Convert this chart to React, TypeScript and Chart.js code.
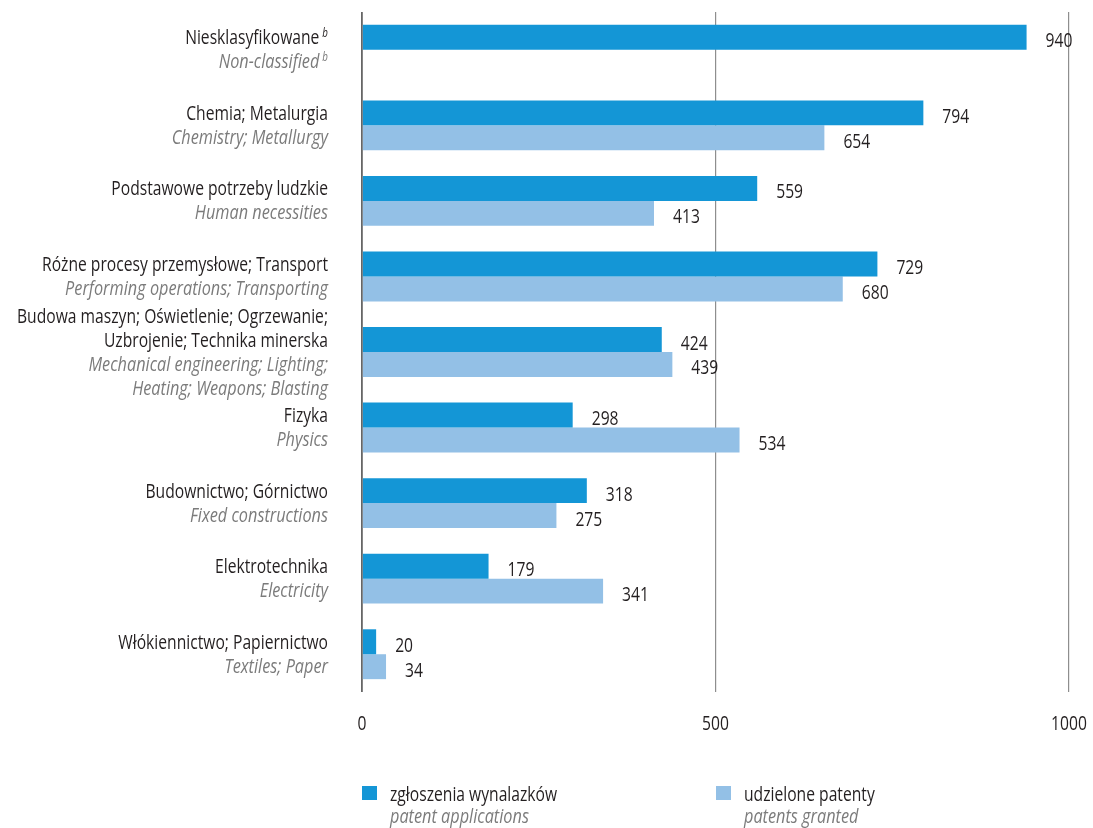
import React, { useEffect, useRef } from "react";
import { Chart, registerables } from "chart.js";

Chart.register(...registerables);

// ---- data ----
const labelsPl: string[][] = [
  ["Niesklasyfikowane"],
  ["Chemia; Metalurgia"],
  ["Podstawowe potrzeby ludzkie"],
  ["Różne procesy przemysłowe; Transport"],
  ["Budowa maszyn; Oświetlenie; Ogrzewanie;", "Uzbrojenie; Technika minerska"],
  ["Fizyka"],
  ["Budownictwo; Górnictwo"],
  ["Elektrotechnika"],
  ["Włókiennictwo; Papiernictwo"],
];
const labelsEn: string[][] = [
  ["Non-classified"],
  ["Chemistry; Metallurgy"],
  ["Human necessities"],
  ["Performing operations; Transporting"],
  ["Mechanical engineering; Lighting;", "Heating; Weapons; Blasting"],
  ["Physics"],
  ["Fixed constructions"],
  ["Electricity"],
  ["Textiles; Paper"],
];
const footnoteIdx = [0];
const footnoteMark = "b";
const applications = [940, 794, 559, 729, 424, 298, 318, 179, 20];
const granted: (number | null)[] = [null, 654, 413, 680, 439, 534, 275, 341, 34];
const xTicks = [0, 500, 1000];
const seriesPl = ["zgłoszenia wynalazków", "udzielone patenty"];
const seriesEn = ["patent applications", "patents granted"];

const DARK = "#1496d6";
const LIGHT = "#93c0e6";
const TEXT = "#231f20";
const GREY = "#7b7b7b";
const FAMILY = "'Open Sans', 'Noto Sans', sans-serif";
const FS = 20;

export default function App() {
  const ref = useRef<HTMLCanvasElement>(null);

  useEffect(() => {
    document.body.style.margin = "0";
    const canvas = ref.current!;
    const mctx = canvas.getContext("2d")!;
    mctx.font = `${FS}px ${FAMILY}`;
    const w = mctx.measureText("Różne procesy przemysłowe; Transport").width;
    const SX = 286 / w; // horizontal condensing to mimic the condensed typeface
    const SXI = SX * 1.04;

    const font = (italic: boolean, size = FS) =>
      `${italic ? "italic " : ""}${size}px ${FAMILY}`;

    const drawText = (
      ctx: CanvasRenderingContext2D,
      t: string,
      x: number,
      y: number,
      align: CanvasTextAlign,
      f: string,
      color: string
    ) => {
      const sx = f.startsWith("italic") ? SXI : SX;
      ctx.save();
      ctx.translate(x, y);
      ctx.scale(sx, 1);
      ctx.font = f;
      ctx.fillStyle = color;
      ctx.textAlign = align;
      ctx.textBaseline = "alphabetic";
      ctx.fillText(t, 0, 0);
      ctx.restore();
    };
    const measure = (ctx: CanvasRenderingContext2D, t: string, f: string) => {
      const sx = f.startsWith("italic") ? SXI : SX;
      ctx.save();
      ctx.font = f;
      const wd = ctx.measureText(t).width * sx;
      ctx.restore();
      return wd;
    };

    const labelPlugin = {
      id: "customText",
      afterDatasetsDraw(chart: any) {
        const ctx = chart.ctx as CanvasRenderingContext2D;
        const yScale = chart.scales.y;
        const xScale = chart.scales.x;
        // category labels
        const rightX = 328;
        labelsPl.forEach((pl, i) => {
          const lines: { t: string; it: boolean }[] = [
            ...pl.map((t) => ({ t, it: false })),
            ...labelsEn[i].map((t) => ({ t, it: true })),
          ];
          const c = yScale.getPixelForValue(i);
          const n = lines.length;
          lines.forEach((ln, k) => {
            const y = c + (k - (n - 1) / 2) * 24 + 6.5;
            const col = ln.it ? GREY : TEXT;
            let x = rightX;
            if (footnoteIdx.includes(i)) {
              const sf = font(true, 12);
              drawText(ctx, footnoteMark, x, y - 7, "right", sf, col);
              x = x - measure(ctx, footnoteMark, sf) - 3;
            }
            drawText(ctx, ln.t, x, y, "right", font(ln.it), col);
          });
        });
        // value labels
        chart.data.datasets.forEach((ds: any, di: number) => {
          const meta = chart.getDatasetMeta(di);
          meta.data.forEach((el: any, j: number) => {
            const v = ds.data[j];
            if (v === null || v === undefined) return;
            drawText(ctx, String(v), el.x + 19, el.y + 10, "left", font(false), TEXT);
          });
        });
        // x tick labels
        xTicks.forEach((v) => {
          drawText(ctx, String(v), xScale.getPixelForValue(v), 730, "center", font(false), TEXT);
        });
        // legend
        const legendX = [362, 716];
        const colors = [DARK, LIGHT];
        seriesPl.forEach((s, i) => {
          ctx.save();
          ctx.fillStyle = colors[i];
          ctx.fillRect(legendX[i], 786, 15, 14);
          ctx.restore();
          drawText(ctx, s, legendX[i] + 28, 801, "left", font(false), TEXT);
          drawText(ctx, seriesEn[i], legendX[i] + 28, 823, "left", font(true), GREY);
        });
      },
    };

    const chart = new Chart(canvas, {
      type: "bar",
      data: {
        labels: labelsPl.map((l) => l.join(" ")),
        datasets: [
          {
            label: seriesPl[0],
            data: applications,
            backgroundColor: DARK,
            barPercentage: 1,
            categoryPercentage: 0.66,
          },
          {
            label: seriesPl[1],
            data: granted,
            backgroundColor: LIGHT,
            barPercentage: 1,
            categoryPercentage: 0.66,
          },
        ],
      },
      options: {
        indexAxis: "y",
        responsive: false,
        animation: false,
        layout: { padding: { top: 12, right: 24, left: 0, bottom: 0 } },
        plugins: { legend: { display: false }, tooltip: { enabled: false } },
        scales: {
          x: {
            min: xTicks[0],
            max: xTicks[xTicks.length - 1],
            afterBuildTicks: (scale: any) => {
              scale.ticks = xTicks.map((v) => ({ value: v }));
            },
            afterFit: (scale: any) => {
              scale.height = 136;
              scale.paddingLeft = 0;
              scale.paddingRight = 0;
            },
            ticks: { display: false },
            grid: {
              drawTicks: false,
              color: (c: any) => (c.tick && c.tick.value === 0 ? "#666666" : "#8e8e8e"),
              lineWidth: (c: any) => (c.tick && c.tick.value === 0 ? 1.8 : 1.2),
            },
            border: { display: false },
          },
          y: {
            afterFit: (scale: any) => {
              scale.width = 362;
            },
            ticks: { display: false },
            grid: { display: false },
            border: { display: false },
          },
        },
      } as any,
      plugins: [labelPlugin],
    });
    return () => chart.destroy();
  }, []);

  return (
    <div style={{ position: "absolute", left: 0, top: 0, width: 1093, height: 828, background: "#fff" }}>
      <canvas ref={ref} width={1093} height={828} />
    </div>
  );
}
